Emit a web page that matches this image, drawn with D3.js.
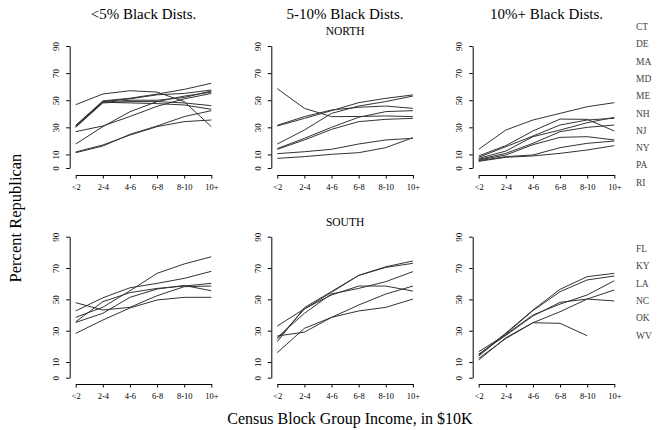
<!DOCTYPE html>
<html><head><meta charset="utf-8">
<script src="https://cdn.jsdelivr.net/npm/d3@7"></script>
<style>
body{margin:0;background:#fff}
svg{display:block}
text{font-family:"Liberation Serif","DejaVu Serif","Times New Roman",serif;fill:#000}
</style>
</head><body>
<svg id="chart" width="667" height="430"></svg>
<script>
// ---------- data ----------
const incomeBins = ["<2","2-4","4-6","6-8","8-10","10+"];
const yTickValues = [0,10,30,50,70,90];
const columnTitles = ["<5% Black Dists.","5-10% Black Dists.","10%+ Black Dists."];
const regionTitles = ["NORTH","SOUTH"];
const northStates = ["CT","DE","MA","MD","ME","NH","NJ","NY","PA","RI"];
const southStates = ["FL","KY","LA","NC","OK","WV"];

// North, <5% black districts
const northUnder5 = [
  [46.7,54.6,57,56,49,30.5],
  [31.5,49.5,51.5,54.5,58,62.5],
  [31,49,51,54,55,57.5],
  [30.5,48.5,50,50,52,56.8],
  [30,48,49,49,48,46],
  [30.5,48.5,48,47.5,46.5,43.3],
  [17.7,30.5,41.5,49,53,56],
  [26.8,31,38,45.5,51,55],
  [11.8,17,24.3,30.5,34.2,35.4],
  [11.3,16.2,24.8,31,37.9,42.3]
];
// North, 5-10% black districts
const north5to10 = [
  [58.5,44,37.9,38,38.4,37.9],
  [31.5,37.9,42.8,44.8,45.7,44],
  [31,36.6,42.3,48.2,51.4,53.9],
  [17.7,28,40.3,45.7,49,53.1],
  [14.3,21.9,30,37.4,41.6,42.3],
  [13.8,20.7,28.5,34.2,35.9,36.6],
  [10.6,12,13.8,17.7,20.7,21.9],
  [7.1,8.4,10.1,11.3,15,22.4]
];
// North, 10%+ black districts
const north10plus = [
  [13.8,28,35.4,40.3,45.2,48.2],
  [8.9,16.5,27.3,36.1,35.9,27.3],
  [7.9,15.7,23.6,31.7,35.4,36.7],
  [7.1,12.5,23.1,28,33.4,37.4],
  [6.4,10.8,18.2,26.8,30,31.7],
  [5.9,9.6,17.2,22.6,23.1,20.7],
  [5.4,8.4,9.6,15,18.2,19.9],
  [4.9,7.9,8.9,10.8,13.3,16.5]
];
// South, <5% black districts
const southUnder5 = [
  [38.5,45,55.5,66.6,72.6,77.2],
  [42.6,51,57.4,60.2,63.4,67.9],
  [35.7,48.5,54.3,57,58.5,60.2],
  [47.9,43.2,44.9,52.3,58.1,58.5],
  [35.3,41.1,51.3,56.6,58.9,55.5],
  [28.3,36.8,44.5,49.6,51.3,51.3]
];
// South, 5-10% black districts
const south5to10 = [
  [23,44.7,55,65.3,70.8,74.5],
  [24.5,43.8,54.5,65.3,70.4,73],
  [25.7,41.1,53.5,57,61.3,67.7],
  [33,44,52.8,58.5,58.5,55.3],
  [26.6,29.1,38.5,46.4,53.4,58.5],
  [16,31.5,38.5,42.6,44.9,50.2]
];
// South, 10%+ black districts
const south10plus = [
  [14.5,28.5,43.2,56.4,64.5,66.6],
  [13.8,28,42.8,54.9,62.4,64.9],
  [16.6,27.5,40,47,52.8,61.9],
  [15.1,27,39.4,48.1,50.2,49],
  [12.3,25,35.1,42.1,50.2,56],
  [11.3,25.5,35.1,34.7,26.8,null]
];

const panelRows = [
  [northUnder5, north5to10, north10plus],
  [southUnder5, south5to10, south10plus]
];
const rowStates = [northStates, southStates];

// ---------- layout ----------
const svg = d3.select("#chart");
const colX0 = [75.7, 277.3, 478.7];
const xSpan = 135.6;
const rowY = [ {zero:168, top:46, axis:175}, {zero:377.7, top:236.7, axis:384} ];
const serif = '"Liberation Serif","DejaVu Serif",serif';

panelRows.forEach((row, r) => {
  const L = rowY[r];
  const y = d3.scaleLinear().domain([0,90]).range([L.zero, L.top]);
  row.forEach((series, c) => {
    const x = d3.scalePoint().domain(incomeBins).range([colX0[c], colX0[c] + xSpan]);
    const g = svg.append("g");

    // y axis
    const ya = g.append("g")
      .attr("transform", `translate(${colX0[c] - 6},0)`)
      .call(d3.axisLeft(y).tickValues(yTickValues).tickSize(3.5).tickSizeOuter(0).tickFormat(d3.format("d")));
    ya.selectAll("text")
      .attr("x", null).attr("dy", null)
      .attr("text-anchor", "middle")
      .attr("transform", "translate(-10.5,0) rotate(-90)")
      .style("font-size", "9px").style("font-family", serif).attr("fill", "#000");

    // x axis
    const xa = g.append("g")
      .attr("transform", `translate(0,${L.axis})`)
      .call(d3.axisBottom(x).tickSize(3.5).tickSizeOuter(0).tickPadding(0));
    xa.selectAll("text")
      .attr("dy", null).attr("y", 14.5)
      .style("font-size", "8.5px").style("font-family", serif).attr("fill", "#000");

    g.selectAll(".domain, .tick line").attr("stroke", "#000").attr("stroke-width", 1);

    // lines
    const line = d3.line()
      .defined(d => d != null)
      .x((d, i) => x(incomeBins[i]))
      .y(d => y(d));
    g.selectAll("path.series").data(series).enter().append("path")
      .attr("class", "series")
      .attr("d", d => line(d))
      .attr("fill", "none").attr("stroke", "#333").attr("stroke-width", 1);
  });

  // region title over middle panel
  svg.append("text")
    .attr("x", colX0[1] + xSpan / 2).attr("y", r === 0 ? 35 : 226)
    .attr("text-anchor", "middle")
    .style("font-size", "11.5px")
    .text(regionTitles[r]);

  // state list
  const startY = r === 0 ? 30 : 252;
  svg.append("g").selectAll("text").data(rowStates[r]).enter().append("text")
    .attr("x", 636).attr("y", (d, i) => startY + i * 17.3)
    .style("font-size", "9.5px").style("fill", "#444")
    .text(d => d);
});

// column titles
columnTitles.forEach((t, c) => {
  svg.append("text")
    .attr("x", colX0[c] + xSpan / 2).attr("y", 19)
    .attr("text-anchor", "middle")
    .style("font-size", "15px")
    .text(t);
});

// axis titles
svg.append("text")
  .attr("x", 350).attr("y", 424)
  .attr("text-anchor", "middle")
  .style("font-size", "16px")
  .text("Census Block Group Income, in $10K");

svg.append("text")
  .attr("transform", "translate(21,218) rotate(-90)")
  .attr("text-anchor", "middle")
  .style("font-size", "16.5px")
  .text("Percent Republican");
</script>
</body></html>
